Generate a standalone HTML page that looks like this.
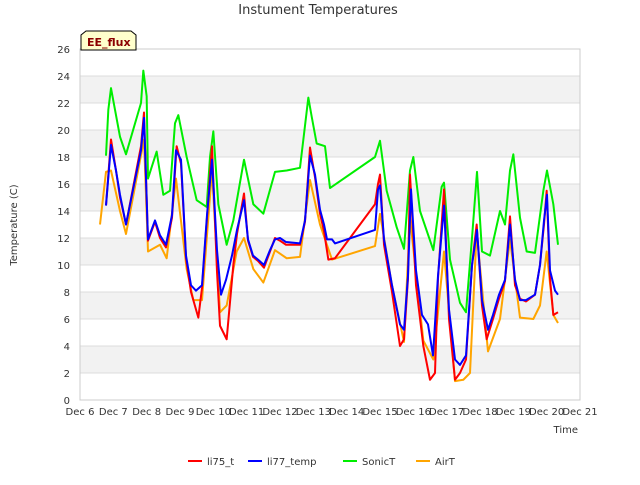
<!DOCTYPE html>
<html><head><meta charset="utf-8"><style>
body{margin:0;background:#fff;font-family:"Liberation Sans","DejaVu Sans",sans-serif}
</style></head><body>
<svg id="c" width="640" height="480" xmlns="http://www.w3.org/2000/svg" font-family="DejaVu Sans, Liberation Sans, sans-serif"></svg>
<script>
const xTicks=["Dec 6","Dec 7","Dec 8","Dec 9","Dec 10","Dec 11","Dec 12","Dec 13","Dec 14","Dec 15","Dec 16","Dec 17","Dec 18","Dec 19","Dec 20","Dec 21"];
const yTicks=[0,2,4,6,8,10,12,14,16,18,20,22,24,26];
const seriesNames=["li75_t","li77_temp","SonicT","AirT"];
const li75Days=[0.78,0.93,1.08,1.2,1.38,1.83,1.92,2.04,2.25,2.4,2.58,2.76,2.9,3.03,3.18,3.33,3.55,3.66,3.81,3.96,4.11,4.2,4.4,4.6,4.71,4.92,5.04,5.19,5.34,5.52,5.7,5.85,6.0,6.18,6.6,6.75,6.9,7.05,7.2,7.32,7.45,7.65,8.85,8.94,9.0,9.12,9.36,9.6,9.72,9.84,9.9,10.08,10.3,10.5,10.65,10.74,10.92,11.07,11.25,11.4,11.58,11.76,11.9,12.06,12.2,12.39,12.57,12.75,12.9,13.05,13.2,13.38,13.65,13.8,13.92,14.0,14.1,14.2,14.34];
const li75Vals=[14.4,19.3,17.0,15.0,13.0,18.8,21.3,11.8,13.2,12.0,11.3,13.5,18.8,17.5,10.5,8.0,6.1,8.3,13.5,18.8,9.5,5.5,4.5,10.0,12.3,15.3,11.8,10.6,10.3,9.8,11.0,12.0,11.8,11.5,11.5,13.2,18.7,16.5,13.8,12.5,10.4,10.5,14.5,16.0,16.7,11.5,8.0,4.0,4.5,9.0,16.7,8.5,4.0,1.5,2.0,9.0,15.6,6.0,1.5,2.0,3.0,10.0,13.0,7.0,4.5,6.0,7.5,8.8,13.6,8.5,7.5,7.3,7.8,10.0,13.0,15.5,9.0,6.3,6.5];
const li77Days=[0.78,0.93,1.08,1.2,1.38,1.83,1.92,2.04,2.25,2.4,2.58,2.76,2.88,3.03,3.18,3.33,3.48,3.66,3.81,3.96,4.11,4.23,4.38,4.56,4.71,4.92,5.04,5.19,5.34,5.52,5.7,5.85,6.0,6.18,6.6,6.75,6.9,7.05,7.2,7.32,7.41,7.56,7.65,8.85,8.94,9.0,9.12,9.36,9.6,9.72,9.84,9.93,10.08,10.26,10.44,10.59,10.74,10.92,11.07,11.25,11.4,11.58,11.76,11.91,12.06,12.24,12.39,12.57,12.75,12.9,13.05,13.2,13.38,13.65,13.8,13.92,14.01,14.1,14.25,14.34];
const li77Vals=[14.4,18.9,17.0,15.2,13.0,18.5,20.9,11.9,13.3,12.2,11.5,13.7,18.5,17.8,10.7,8.5,8.1,8.5,13.7,17.8,11.1,7.8,8.9,10.7,12.6,14.8,11.9,10.7,10.4,10.0,11.1,11.9,12.0,11.7,11.6,13.3,18.1,16.7,14.1,13.0,11.9,11.9,11.6,12.6,15.6,15.9,11.9,8.5,5.6,5.2,9.2,15.6,9.6,6.3,5.6,3.3,9.2,14.4,6.7,3.0,2.6,3.3,10.0,12.6,7.4,5.2,6.3,7.8,8.9,13.0,8.9,7.4,7.4,7.8,10.0,13.3,15.2,9.6,8.1,7.8];
const sonicDays=[0.78,0.85,0.93,1.2,1.38,1.83,1.9,2.0,2.04,2.3,2.5,2.7,2.85,2.95,3.2,3.5,3.8,3.9,4.0,4.15,4.4,4.6,4.92,5.2,5.5,5.85,6.2,6.6,6.85,6.95,7.1,7.35,7.5,8.85,9.0,9.2,9.5,9.72,9.9,10.0,10.2,10.6,10.85,10.92,11.1,11.4,11.58,11.76,11.91,12.06,12.3,12.6,12.75,12.9,13.0,13.2,13.4,13.65,13.9,14.01,14.2,14.34];
const sonicVals=[18.1,21.5,23.1,19.5,18.2,22.0,24.4,22.5,16.4,18.4,15.2,15.5,20.5,21.1,18.0,14.8,14.3,18.0,19.9,14.5,11.5,13.3,17.8,14.5,13.8,16.9,17.0,17.2,22.4,21.0,19.0,18.8,15.7,18.0,19.2,15.5,12.8,11.2,17.0,18.0,14.0,11.1,15.8,16.1,10.4,7.2,6.5,12.0,16.9,11.0,10.7,14.0,13.0,17.0,18.2,13.5,11.0,10.9,15.5,17.0,14.5,11.5];
const airDays=[0.6,0.78,0.93,1.2,1.38,1.92,2.04,2.4,2.6,2.88,3.2,3.4,3.66,3.96,4.2,4.4,4.7,4.92,5.2,5.5,5.85,6.2,6.6,6.9,7.2,7.56,8.85,9.0,9.36,9.72,9.9,10.3,10.6,10.92,11.25,11.5,11.7,11.9,12.24,12.6,12.9,13.2,13.6,13.8,14.0,14.2,14.34];
const airVals=[13.0,16.9,17.0,14.0,12.3,19.3,11.0,11.5,10.5,16.4,9.7,7.4,7.4,17.0,6.5,7.0,11.0,12.0,9.7,8.7,11.1,10.5,10.6,16.3,13.0,10.4,11.4,13.8,8.5,4.3,13.5,4.4,3.0,11.0,1.4,1.5,2.0,12.5,3.6,6.0,11.9,6.1,6.0,7.0,11.0,6.3,5.7];

const NS="http://www.w3.org/2000/svg";
const svg=document.getElementById('c');
const L=80,R=580,T=49,B=400;
const xS=d=>L+d*(R-L)/15;
const yS=v=>B-v*(B-T)/26;
function mk(tag,at,parent){const e=document.createElementNS(NS,tag);for(const k in at)e.setAttribute(k,at[k]);(parent||svg).appendChild(e);return e;}
// bands
for(let v=2;v<26;v+=4){
 const r=mk('rect',{x:L,y:yS(v+2),width:R-L,height:yS(v)-yS(v+2),fill:'#f2f2f2'});
 
 
}
yTicks.forEach(v=>{
 const g=mk('line',{x1:L,x2:R,y1:yS(v),y2:yS(v),stroke:'#dcdcdc','stroke-width':1});
 
 
 const t=mk('text',{x:L-10,y:yS(v)+4,'text-anchor':'end','font-size':10,fill:'#333'});
 t.textContent=v;
 
 
});
const fr=mk('rect',{x:L,y:T,width:R-L,height:B-T,fill:'none',stroke:'#cccccc'});


xTicks.forEach((s,i)=>{
 const t=mk('text',{x:xS(i),y:B+15,'text-anchor':'middle','font-size':10,fill:'#333'});
 t.textContent=s;
 
 
});
const colors=['#ff0000','#0000ff','#00ee00','#ffa500'];
const data=[[li75Days,li75Vals],[li77Days,li77Vals],[sonicDays,sonicVals],[airDays,airVals]];
const order=[2,3,0,1];
order.forEach(i=>{
 const [d,v]=data[i];
 const p=mk('polyline',{points:d.map((x,j)=>xS(x)+','+yS(v[j])).join(' '),fill:'none',stroke:colors[i],'stroke-width':2,'stroke-linejoin':'round'});
 
 
});
const title=mk('text',{x:318,y:14,'text-anchor':'middle','font-size':13,fill:'#333'});
title.textContent='Instument Temperatures';


const yt=mk('text',{x:17,y:225,'text-anchor':'middle','font-size':10,fill:'#333',transform:'rotate(-90 17 225)'});
yt.textContent='Temperature (C)';


const xt=mk('text',{x:578,y:433,'text-anchor':'end','font-size':10,fill:'#333'});
xt.textContent='Time';


const bx=mk('path',{d:'M81,50 L81,35 L86,31 L131,31 L136,35 L136,50 Z',fill:'#ffffcc',stroke:'#000','stroke-width':1});


const bt=mk('text',{x:87,y:46,'font-size':11,'font-weight':'bold',fill:'#8b0000'});
bt.textContent='EE_flux';


const lx=[188,248,343,416];
seriesNames.forEach((n,i)=>{
 const l=mk('line',{x1:lx[i],x2:lx[i]+14,y1:461,y2:461,stroke:colors[i],'stroke-width':2});
 
 
 const t=mk('text',{x:lx[i]+19,y:465,'font-size':10,fill:'#333'});
 t.textContent=n;
 
 
});
</script>
</body></html>
